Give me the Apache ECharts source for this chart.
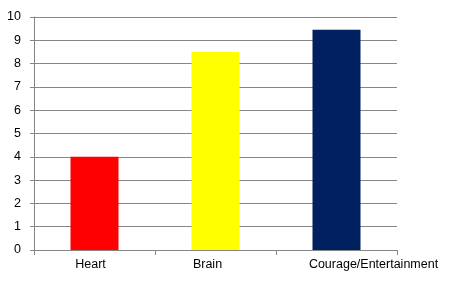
<!DOCTYPE html>
<html><head><meta charset="utf-8">
<script src="https://cdn.jsdelivr.net/npm/echarts@6/dist/echarts.min.js"></script>
<style>html,body{margin:0;padding:0;background:#fff}#c{width:450px;height:291px}</style>
</head><body><div id="c"></div>
<script>
var categories = ['Heart', 'Brain', 'Courage/Entertainment'];
var values = [4, 8.5, 9.45];
var barColors = ['#ff0000', '#ffff00', '#002060'];
var yTicks = {min: 0, max: 10, interval: 1};

var font = {color: '#000', fontFamily: 'Liberation Sans, DejaVu Sans', fontSize: 12.5};
var chart = echarts.init(document.getElementById('c'), null, {renderer: 'canvas'});
chart.setOption({
  animation: false,
  backgroundColor: '#ffffff',
  grid: {left: 34, right: 53, top: 17, bottom: 41, containLabel: false},
  xAxis: {
    type: 'category',
    data: categories,
    axisLine: {lineStyle: {color: '#868686', width: 1}},
    axisTick: {show: true, length: 5, alignWithLabel: false, lineStyle: {color: '#868686'}},
    axisLabel: Object.assign({
      margin: 8, interval: 0,
      formatter: function (v, i) { return '{l' + i + '|' + v + '}'; },
      rich: {
        l0: Object.assign({padding: [0, 8, 0, 0]}, font),
        l1: Object.assign({padding: [0, 16, 0, 0]}, font),
        l2: Object.assign({padding: [0, 0, 0, 74]}, font)
      }
    }, font)
  },
  yAxis: {
    type: 'value',
    min: yTicks.min, max: yTicks.max, interval: yTicks.interval,
    axisLine: {show: true, lineStyle: {color: '#868686', width: 1}},
    axisTick: {show: true, length: 4, lineStyle: {color: '#868686'}},
    splitLine: {lineStyle: {color: '#868686', width: 1}},
    axisLabel: Object.assign({margin: 13}, font)
  },
  series: [{
    type: 'bar',
    data: values.map(function (v, i) { return {value: v, itemStyle: {color: barColors[i]}}; }),
    barWidth: 48
  }]
});
</script></body></html>
